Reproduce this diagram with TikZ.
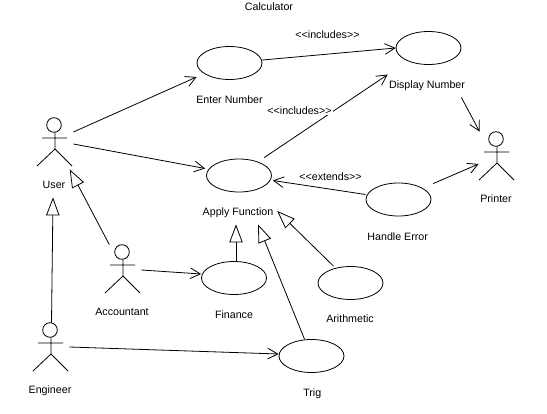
\documentclass[tikz,border=0pt]{standalone}
\usepackage{fontspec}
\setmainfont{Liberation Sans}
\usetikzlibrary{shapes.geometric,arrows.meta}
\tikzset{
  usecase/.style={draw,ellipse,inner sep=0pt,minimum width=48.75pt,minimum height=24.75pt},
  actorbox/.style={inner sep=0pt,minimum width=26.25pt,minimum height=36pt},
  tag/.style={inner sep=0pt,font=\fontsize{8}{9}\selectfont,text height=6pt,text depth=0pt},
  stereo/.style={tag,fill=white,inner xsep=1pt,inner ysep=1pt},
  assoc/.style={-{Straight Barb[length=7.5pt,width=8pt]}},
  general/.style={-{Triangle[open,fill=white,length=13.5pt,width=10pt]}}
}
\begin{document}
\begin{tikzpicture}[x=0.75pt,y=-0.75pt,line width=0.6pt,line join=round]
  \useasboundingbox (0,0) rectangle (547,414);
  \node[tag] (title) at (269,7) {Calculator};
  % the use cases
  \foreach \name/\x/\y/\tx/\ty/\txt in {enter/229.5/63/229.5/99/Enter Number,
      display/428.5/48/427/84/Display Number,
      apply/239/175.5/238/211/Apply Function,
      handle/398.5/199.5/397.7/236/Handle Error,
      finance/234/278/234/314/Finance,
      arithmetic/350.5/283/350/318/Arithmetic,
      trig/311.5/356/312.3/392/Trig} {
    \node[usecase] (\name) at (\x,\y) {};
    \node[tag] (\name Text) at (\tx,\ty) {\txt};
  }
  % the actors
  \foreach \name/\x/\y/\ty/\txt in {user/54/125/184/User,
      accountant/122/252/311/Accountant,
      engineer/50/330/389/Engineer,
      printer/496/139/198/Printer} {
    \node[actorbox] (\name) at (\x+1.5,\y+17) {};
    \node[tag] (\name Text) at (\x,\ty) {\txt};
    \begin{scope}[shift={(\x,\y)}]
      \draw (0,0) circle (7.3);
      \draw (1,7.3)--(1,24) (-12,13)--(13,13) (-17,41)--(1,24)--(18,41);
    \end{scope}
  }
  % associations
  \draw[assoc] ([shift={(0,-10)}]user.east)--([shift={(0,14)}]enter.west);
  \draw[assoc] ([shift={(0,2)}]user.east)--([shift={(-1,-7)}]apply.west);
  \draw[assoc] ([shift={(0,1)}]accountant.east)--([shift={(0,-4)}]finance.west);
  \draw[assoc] (engineer.east)--([shift={(0,-2)}]trig.west);
  \draw[assoc] ([shift={(0,-3)}]enter.east)--(display.west);
  \draw[assoc] ([shift={(2,-6)}]apply.north east)--([shift={(-1,-5)}]displayText.north west);
  \draw[assoc] ([shift={(0,-5)}]handle.west)--([shift={(1,5)}]apply.east);
  \draw[assoc] ([shift={(11.5,-4)}]handle.north east)--([shift={(-1,8)}]printer.west);
  \draw[assoc] ([shift={(-4,9)}]displayText.south east)--(printer.north west);
  % generalizations
  \draw[general] ([shift={(3.7,0)}]accountant.north west)--([shift={(-3.7,3)}]user.south east);
  \draw[general] (engineer.north)--([shift={(-2.5,31)}]user.south);
  \draw[general] ([shift={(2,0)}]finance.north)--([shift={(-2,9)}]applyText.south);
  \draw[general] ([shift={(-17,0)}]arithmetic.north)--([shift={(3.5,0)}]applyText.east);
  \draw[general] ([shift={(-7,0)}]trig.north)--([shift={(20,9)}]applyText.south);
  % stereotypes
  \node[tag] (inclTop) at (327.5,34) {<{}<{}includes>{}>};
  \node[stereo] (inclMid) at (299.5,110) {<{}<{}includes>{}>};
  \node[tag] (extHandle) at (330.5,176) {<{}<{}extends>{}>};
\end{tikzpicture}
\end{document}
